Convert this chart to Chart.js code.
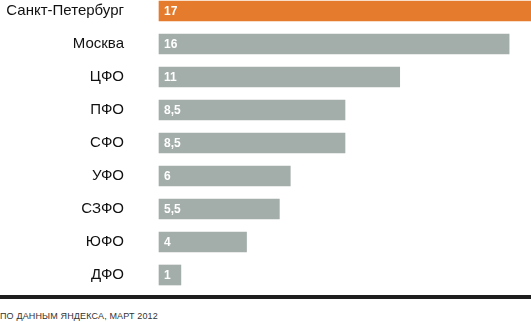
<!DOCTYPE html>
<html>
<head>
<meta charset="utf-8">
<script src="https://cdn.jsdelivr.net/npm/chart.js@4"></script>
<style>
  html, body { margin: 0; padding: 0; background: #fff; }
  #wrap { position: relative; width: 531px; height: 322px; overflow: hidden; }
  #barChart { position: absolute; left: 0; top: 0; }
  #rule { position: absolute; left: 0; top: 295px; width: 531px; height: 4px; background: #1e1e1e; }
  #source { position: absolute; left: 0; top: 311px; font: 9px "Liberation Sans", Arial, sans-serif; color: #333; letter-spacing: 0.15px; }
</style>
</head>
<body>
<div id="wrap">
  <canvas id="barChart" width="531" height="290"></canvas>
  <div id="rule"></div>
  <div id="source">ПО ДАННЫМ ЯНДЕКСА, МАРТ 2012</div>
</div>
<script>
// --- DATA ---
const regions = ["Санкт-Петербург", "Москва", "ЦФО", "ПФО", "СФО", "УФО", "СЗФО", "ЮФО", "ДФО"];
const values = [17, 16, 11, 8.5, 8.5, 6, 5.5, 4, 1];
const valueLabels = ["17", "16", "11", "8,5", "8,5", "6", "5,5", "4", "1"];

const ORANGE = "#e57b2d";
const GREY = "#a3aeaa";

// draws the numbers inside each bar, near its left end
const valueLabelPlugin = {
    id: "valueLabels",
    afterDatasetsDraw(chart) {
        const ctx = chart.ctx;
        const meta = chart.getDatasetMeta(0);
        ctx.save();
        ctx.fillStyle = "#ffffff";
        ctx.font = "bold 12px 'Liberation Sans Narrow', 'Liberation Sans', Arial, sans-serif";
        ctx.textBaseline = "middle";
        ctx.textAlign = "left";
        meta.data.forEach((bar, i) => {
            ctx.fillText(valueLabels[i], bar.base + 5, bar.y + 1);
        });
        ctx.restore();
    }
};

const ctxBar = document.getElementById("barChart").getContext("2d");
new Chart(ctxBar, {
    type: "bar",
    data: {
        labels: regions,
        datasets: [{
            data: values,
            backgroundColor: values.map((v, i) => i === 0 ? ORANGE : GREY),
            borderWidth: 0,
            barThickness: 20,
            clip: false
        }]
    },
    options: {
        indexAxis: "y",
        responsive: false,
        animation: false,
        layout: { padding: { top: 11, bottom: 15, left: 0, right: 0 } },
        plugins: { legend: { display: false }, tooltip: { enabled: false } },
        scales: {
            x: { display: false, min: 0, max: 17 },
            y: {
                offset: false,
                grid: { display: false },
                border: { display: false },
                ticks: {
                    color: "#111",
                    padding: 27,
                    font: { family: "'Liberation Sans', Arial, sans-serif", size: 15 }
                },
                afterFit(scale) {
                    // fixed label column, no extra vertical padding
                    scale.width = 159;
                    scale.paddingTop = 0;
                    scale.paddingBottom = 0;
                }
            }
        }
    },
    plugins: [valueLabelPlugin]
});
</script>
</body>
</html>
